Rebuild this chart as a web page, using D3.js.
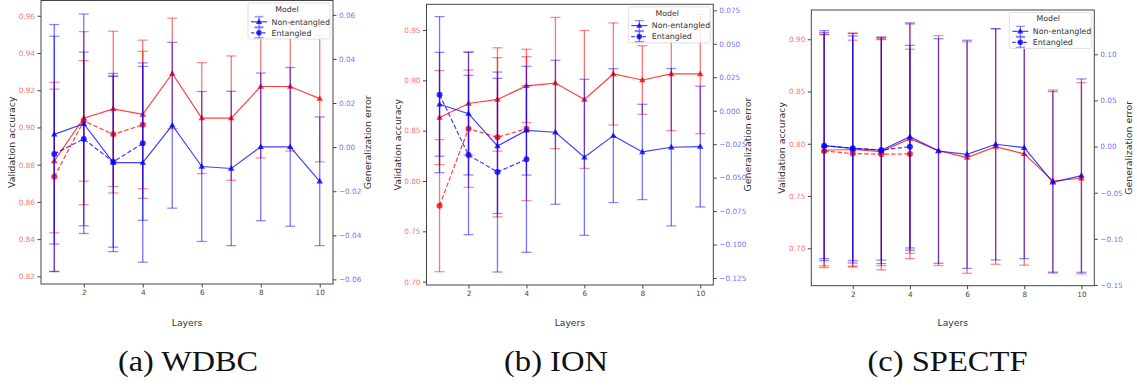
<!DOCTYPE html>
<html><head><meta charset="utf-8">
<script src="https://cdn.jsdelivr.net/npm/d3@7"></script>
<style>body{margin:0;background:#fff}svg{display:block}</style>
</head><body><svg id="chart" width="1137" height="388"></svg>
<script>
// ---------- data ----------
const layers = [1, 2, 3, 4, 5, 6, 7, 8, 9, 10];
const layersEnt = [1, 2, 3, 4];
const seriesNames = ["Non-entangled", "Entangled"];
const legendTitle = "Model";
const panelTitles = ["(a) WDBC", "(b) ION", "(c) SPECTF"];

// (a) WDBC
const wdbcAccNon = [0.882, 0.905, 0.910, 0.907, 0.929, 0.905, 0.905, 0.922, 0.922, 0.9155];
const wdbcAccNonErr = [0.0386, 0.0465, 0.0417, 0.0399, 0.0297, 0.0298, 0.0334, 0.0384, 0.0347, 0.034];
const wdbcAccEnt = [0.8735, 0.9035, 0.8963, 0.9014];
const wdbcAccEntErr = [0.0508, 0.0324, 0.0315, 0.0395];
const wdbcGenNon = [0.0058, 0.0106, -0.007, -0.007, 0.0099, -0.0088, -0.0097, 0.0001, 0.0001, -0.0155];
const wdbcGenNonErr = [0.0498, 0.0498, 0.0404, 0.0452, 0.0376, 0.034, 0.035, 0.0335, 0.036, 0.0292];
const wdbcGenEnt = [-0.0031, 0.0037, -0.0067, 0.0017];
const wdbcGenEntErr = [0.0534, 0.0394, 0.0387, 0.0349];
const wdbcAccTicks = [0.82, 0.84, 0.86, 0.88, 0.90, 0.92, 0.94, 0.96];
const wdbcGenTicks = [-0.06, -0.04, -0.02, 0.00, 0.02, 0.04, 0.06];
const wdbcAccLim = [0.8159, 0.9682];
const wdbcGenLim = [-0.0621, 0.0665];

// (b) ION
const ionAccNon = [0.863, 0.877, 0.881, 0.8945, 0.8973, 0.881, 0.9063, 0.9003, 0.9063, 0.9063];
const ionAccNonErr = [0.0467, 0.0513, 0.0513, 0.0364, 0.0652, 0.0685, 0.0507, 0.0341, 0.0563, 0.0593];
const ionAccEnt = [0.7755, 0.852, 0.8434, 0.852];
const ionAccEntErr = [0.0656, 0.0583, 0.0791, 0.0715];
const ionGenNon = [0.0048, -0.0022, -0.0263, -0.0147, -0.0161, -0.0348, -0.0186, -0.0308, -0.0273, -0.0268];
const ionGenNonErr = [0.0388, 0.0458, 0.0505, 0.0334, 0.0538, 0.0583, 0.05, 0.0356, 0.0588, 0.0451];
const ionGenEnt = [0.012, -0.0331, -0.0458, -0.0363];
const ionGenEntErr = [0.0583, 0.0595, 0.0747, 0.0695];
const ionAccTicks = [0.70, 0.75, 0.80, 0.85, 0.90, 0.95];
const ionGenTicks = [-0.125, -0.100, -0.075, -0.050, -0.025, 0.000, 0.025, 0.050, 0.075];
const ionAccLim = [0.6967, 0.9755];
const ionGenLim = [-0.1302, 0.0795];

// (c) SPECTF
const spectfAccNon = [0.7938, 0.7945, 0.7925, 0.8049, 0.7935, 0.7868, 0.7973, 0.7903, 0.7644, 0.767];
const spectfAccNonErr = [0.1107, 0.1116, 0.1091, 0.1097, 0.11, 0.1107, 0.1126, 0.1065, 0.0871, 0.0915];
const spectfAccEnt = [0.7931, 0.7906, 0.79, 0.7903];
const spectfAccEntErr = [0.1116, 0.1085, 0.1107, 0.1002];
const spectfGenNon = [0.001, -0.0019, -0.004, 0.0108, -0.0048, -0.0084, 0.0025, -0.0012, -0.0387, -0.0315];
const spectfGenNonErr = [0.1246, 0.1217, 0.1228, 0.1232, 0.1217, 0.1236, 0.1254, 0.1203, 0.0983, 0.1048];
const spectfGenEnt = [0.001, -0.0019, -0.0036, -0.0001];
const spectfGenEntErr = [0.1225, 0.1243, 0.1195, 0.1098];
const spectfAccTicks = [0.70, 0.75, 0.80, 0.85, 0.90];
const spectfGenTicks = [-0.15, -0.10, -0.05, 0.00, 0.05, 0.10];
const spectfAccLim = [0.6642, 0.928];
const spectfGenLim = [-0.1508, 0.148];

const xTicks = [2, 4, 6, 8, 10];
const xLim = [0.55, 10.45];

// ---------- layout ----------
const RED = "#ff0000", BLUE = "#0000ff";
const FONT = "DejaVu Sans, sans-serif";
const geoms = [
  {left: 41, right: 333, top: 0.5, bottom: 284, capX: 188, capW: 140, rFmt: ".2f"},
  {left: 426.5, right: 713.3, top: 4.3, bottom: 285, capX: 556, capW: 104, rFmt: ".3f"},
  {left: 811.3, right: 1094.3, top: 10, bottom: 285.7, capX: 947.5, capW: 160, rFmt: ".2f"}
];
const panels = [
  {accNon: wdbcAccNon, accNonErr: wdbcAccNonErr, accEnt: wdbcAccEnt, accEntErr: wdbcAccEntErr,
   genNon: wdbcGenNon, genNonErr: wdbcGenNonErr, genEnt: wdbcGenEnt, genEntErr: wdbcGenEntErr,
   accTicks: wdbcAccTicks, genTicks: wdbcGenTicks, accLim: wdbcAccLim, genLim: wdbcGenLim},
  {accNon: ionAccNon, accNonErr: ionAccNonErr, accEnt: ionAccEnt, accEntErr: ionAccEntErr,
   genNon: ionGenNon, genNonErr: ionGenNonErr, genEnt: ionGenEnt, genEntErr: ionGenEntErr,
   accTicks: ionAccTicks, genTicks: ionGenTicks, accLim: ionAccLim, genLim: ionGenLim},
  {accNon: spectfAccNon, accNonErr: spectfAccNonErr, accEnt: spectfAccEnt, accEntErr: spectfAccEntErr,
   genNon: spectfGenNon, genNonErr: spectfGenNonErr, genEnt: spectfGenEnt, genEntErr: spectfGenEntErr,
   accTicks: spectfAccTicks, genTicks: spectfGenTicks, accLim: spectfAccLim, genLim: spectfGenLim}
];

const svg = d3.select("#chart");

function triPath(s) {
  return `M0,${-s}L${s * 0.95},${s * 0.65}L${-s * 0.95},${s * 0.65}Z`;
}

function drawSeries(g, xs, ys, errs, x, y, color, dashed, marker) {
  const pts = xs.map((v, i) => ({x: v, y: ys[i], e: errs[i]}));
  const eb = g.append("g").attr("stroke", color).attr("stroke-opacity", 0.55).attr("stroke-width", 1.3);
  pts.forEach(p => {
    eb.append("line").attr("x1", x(p.x)).attr("x2", x(p.x))
      .attr("y1", y(p.y - p.e)).attr("y2", y(p.y + p.e));
    [p.y - p.e, p.y + p.e].forEach(v => {
      eb.append("line").attr("x1", x(p.x) - 5).attr("x2", x(p.x) + 5)
        .attr("y1", y(v)).attr("y2", y(v)).attr("stroke-opacity", 0.45);
    });
  });
  const line = d3.line().x(p => x(p.x)).y(p => y(p.y));
  g.append("path").datum(pts).attr("d", line).attr("fill", "none")
    .attr("stroke", color).attr("stroke-opacity", 0.75).attr("stroke-width", 1.2)
    .attr("stroke-dasharray", dashed ? "4.5,2.2" : null);
  const mk = g.append("g").attr("fill", color).attr("fill-opacity", 0.8);
  pts.forEach(p => {
    if (marker === "tri") {
      mk.append("path").attr("d", triPath(3.4)).attr("transform", `translate(${x(p.x)},${y(p.y)})`);
    } else {
      mk.append("circle").attr("cx", x(p.x)).attr("cy", y(p.y)).attr("r", 3);
    }
  });
}

function drawLegend(g, gm) {
  const w = 82, h = 36;
  const lx = gm.right - 3 - w, ly = gm.top + 2.5;
  const lg = g.append("g").attr("transform", `translate(${lx},${ly})`);
  lg.append("rect").attr("width", w).attr("height", h).attr("rx", 2)
    .attr("fill", "#fff").attr("fill-opacity", 0.85).attr("stroke", "#d8d8d8").attr("stroke-width", 0.8);
  lg.append("text").attr("x", w / 2 - 2).attr("y", 8.8).attr("text-anchor", "middle")
    .attr("font-family", FONT).attr("font-size", 7.8).attr("fill", "#333").text(legendTitle);
  seriesNames.forEach((name, i) => {
    const cy = 18.8 + i * 11;
    const hx0 = 3, hx1 = 19, cx = (hx0 + hx1) / 2;
    const hg = lg.append("g");
    hg.append("line").attr("x1", hx0).attr("x2", hx1).attr("y1", cy).attr("y2", cy)
      .attr("stroke", BLUE).attr("stroke-opacity", 0.75).attr("stroke-width", 1.2)
      .attr("stroke-dasharray", i === 1 ? "3.5,2" : null);
    hg.append("line").attr("x1", cx).attr("x2", cx).attr("y1", cy - 5).attr("y2", cy + 5)
      .attr("stroke", BLUE).attr("stroke-opacity", 0.55).attr("stroke-width", 1.2);
    [cy - 5, cy + 5].forEach(v => hg.append("line").attr("x1", cx - 4.5).attr("x2", cx + 4.5)
      .attr("y1", v).attr("y2", v).attr("stroke", BLUE).attr("stroke-opacity", 0.45).attr("stroke-width", 1.2));
    if (i === 0) hg.append("path").attr("d", triPath(3.2)).attr("transform", `translate(${cx},${cy})`).attr("fill", BLUE).attr("fill-opacity", 0.8);
    else hg.append("circle").attr("cx", cx).attr("cy", cy).attr("r", 2.8).attr("fill", BLUE).attr("fill-opacity", 0.8);
    lg.append("text").attr("x", 23.5).attr("y", cy + 2.7).attr("font-family", FONT).attr("font-size", 7.9)
      .attr("fill", "#333").text(name);
  });
}

panels.forEach((pd, k) => {
  const gm = geoms[k];
  const g = svg.append("g");
  const x = d3.scaleLinear().domain(xLim).range([gm.left, gm.right]);
  const yL = d3.scaleLinear().domain(pd.accLim).range([gm.bottom, gm.top]);
  const yR = d3.scaleLinear().domain(pd.genLim).range([gm.bottom, gm.top]);

  const plot = g.append("g");
  drawSeries(plot, layers, pd.accNon, pd.accNonErr, x, yL, RED, false, "tri");
  drawSeries(plot, layersEnt, pd.accEnt, pd.accEntErr, x, yL, RED, true, "circ");
  drawSeries(plot, layers, pd.genNon, pd.genNonErr, x, yR, BLUE, false, "tri");
  drawSeries(plot, layersEnt, pd.genEnt, pd.genEntErr, x, yR, BLUE, true, "circ");

  // frame
  g.append("rect").attr("x", gm.left).attr("y", gm.top).attr("width", gm.right - gm.left)
    .attr("height", gm.bottom - gm.top).attr("fill", "none").attr("stroke", "#444").attr("stroke-width", 1);

  // axes
  const ax = g.append("g").attr("transform", `translate(0,${gm.bottom})`)
    .call(d3.axisBottom(x).tickValues(xTicks).tickFormat(d3.format("d")).tickSize(3.5).tickPadding(2.5));
  ax.select(".domain").remove();
  ax.selectAll("line").attr("stroke", "#444");
  ax.selectAll("text").attr("font-family", FONT).attr("font-size", 7.3).attr("fill", "#444");

  const al = g.append("g").attr("transform", `translate(${gm.left},0)`)
    .call(d3.axisLeft(yL).tickValues(pd.accTicks).tickFormat(d3.format(".2f")).tickSize(3.5).tickPadding(2.5));
  al.select(".domain").remove();
  al.selectAll("line").attr("stroke", "#444");
  al.selectAll("text").attr("font-family", FONT).attr("font-size", 7.3).attr("fill", RED).attr("fill-opacity", 0.6);

  const ar = g.append("g").attr("transform", `translate(${gm.right},0)`)
    .call(d3.axisRight(yR).tickValues(pd.genTicks).tickFormat(d3.format(gm.rFmt)).tickSize(3.5).tickPadding(2.5));
  ar.select(".domain").remove();
  ar.selectAll("line").attr("stroke", "#444");
  ar.selectAll("text").attr("font-family", FONT).attr("font-size", 7.3).attr("fill", BLUE).attr("fill-opacity", 0.6);

  // axis labels
  const midY = (gm.top + gm.bottom) / 2;
  g.append("text").attr("transform", `translate(${gm.left - 26},${midY}) rotate(-90)`)
    .attr("text-anchor", "middle").attr("font-family", FONT).attr("font-size", 9.4).attr("fill", "#333")
    .text("Validation accuracy");
  g.append("text").attr("transform", `translate(${gm.right + 38},${midY}) rotate(-90)`)
    .attr("text-anchor", "middle").attr("font-family", FONT).attr("font-size", 9.4).attr("fill", "#333")
    .text("Generalization error");
  g.append("text").attr("x", (gm.left + gm.right) / 2).attr("y", 326)
    .attr("text-anchor", "middle").attr("font-family", FONT).attr("font-size", 9.2).attr("fill", "#333")
    .text("Layers");

  drawLegend(g, gm);

  // caption
  g.append("text").attr("x", gm.capX).attr("y", 371).attr("text-anchor", "middle")
    .attr("font-family", "Liberation Serif, serif").attr("font-size", 30).attr("fill", "#111")
    .attr("textLength", gm.capW).attr("lengthAdjust", "spacingAndGlyphs")
    .text(panelTitles[k]);
});
</script></body></html>
